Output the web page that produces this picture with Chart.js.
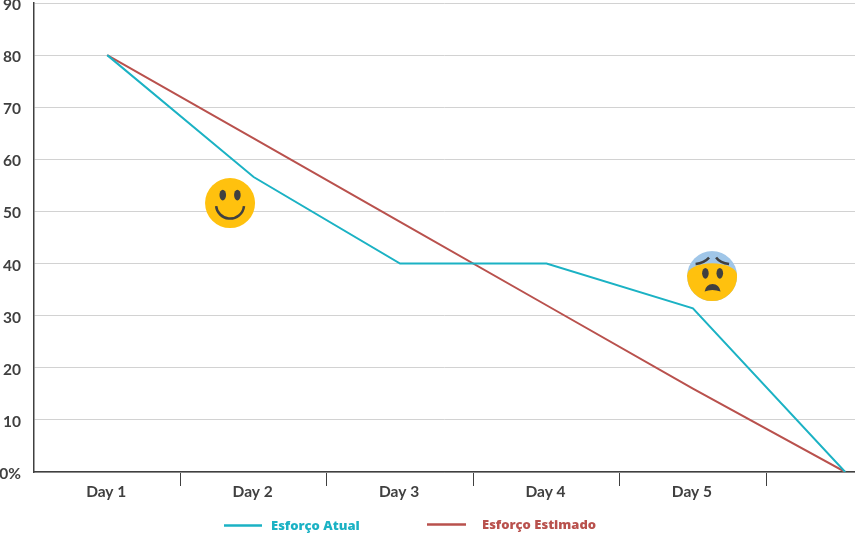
<!DOCTYPE html>
<html>
<head>
<meta charset="utf-8">
<style>
  html, body { margin: 0; background: #fff; overflow: hidden; }
</style>
<script src="https://cdn.jsdelivr.net/npm/chart.js@4"></script>
</head>
<body>
<canvas id="burndownChart" width="855" height="544"></canvas>
<script>
const dayLabels = ["Day 1", "Day 2", "Day 3", "Day 4", "Day 5"];
const dayPositions = [1, 2, 3, 4, 5, 6.04];
const esforcoAtual = [80, 56.6, 40, 40, 31.4, 0];
const esforcoEstimado = [80, 64, 48, 32, 16, 0];
const yTicks = [0, 10, 20, 30, 40, 50, 60, 70, 80, 90];
const tickMarks = [0.5, 1, 1.5, 2, 2.5, 3, 3.5, 4, 4.5, 5, 5.5];
// where the two faces sit, in axis units
const smileFace = { x: 1.839, y: 51.6 };
const worriedFace = { x: 5.131, y: 37.6 };

const textColor = "#404040";
const tealColor = "#1BB2C4";
const redColor = "#B9514D";
const yellowColor = "#FFC10E";
const blueColor = "#A0C6E8";

function toPoints(values) {
  return values.map((v, i) => ({ x: dayPositions[i], y: v }));
}

function eye(ctx, x, y) {
  ctx.beginPath();
  ctx.ellipse(x, y, 3.3, 5.3, 0, 0, Math.PI * 2);
  ctx.fill();
}

function drawSmile(ctx, cx, cy) {
  ctx.fillStyle = yellowColor;
  ctx.beginPath();
  ctx.arc(cx, cy, 25, 0, Math.PI * 2);
  ctx.fill();
  ctx.fillStyle = textColor;
  eye(ctx, cx - 7.3, cy - 8);
  eye(ctx, cx + 7.3, cy - 8);
  ctx.strokeStyle = textColor;
  ctx.lineWidth = 2.5;
  ctx.beginPath();
  ctx.arc(cx, cy + 1.5, 14, 0.1, Math.PI - 0.1);
  ctx.stroke();
}

function drawWorried(ctx, cx, cy) {
  ctx.save();
  ctx.beginPath();
  ctx.arc(cx, cy, 25, 0, Math.PI * 2);
  ctx.clip();
  ctx.fillStyle = blueColor;
  ctx.fillRect(cx - 25, cy - 25, 50, 50);
  ctx.fillStyle = yellowColor;
  ctx.beginPath();
  ctx.ellipse(cx, cy - 1, 25, 11.7, 0, 0, Math.PI * 2);
  ctx.fill();
  ctx.fillRect(cx - 25, cy - 1, 50, 26);
  ctx.restore();

  ctx.fillStyle = textColor;
  eye(ctx, cx - 6.7, cy - 2.7);
  eye(ctx, cx + 7.7, cy - 2.7);

  // brows
  ctx.strokeStyle = textColor;
  ctx.lineWidth = 2.5;
  ctx.beginPath();
  ctx.moveTo(cx - 16.5, cy - 12);
  ctx.quadraticCurveTo(cx - 8, cy - 13, cx - 3, cy - 18.5);
  ctx.moveTo(cx + 17, cy - 12);
  ctx.quadraticCurveTo(cx + 8, cy - 13, cx + 4, cy - 18.5);
  ctx.stroke();

  // mouth
  ctx.beginPath();
  ctx.moveTo(cx - 7.5, cy + 15.5);
  ctx.quadraticCurveTo(cx, cy + 12.5, cx + 8.5, cy + 15.5);
  ctx.quadraticCurveTo(cx + 7, cy + 8, cx + 0.5, cy + 8);
  ctx.quadraticCurveTo(cx - 6, cy + 8, cx - 7.5, cy + 15.5);
  ctx.fill();
}

const facesPlugin = {
  id: "faces",
  afterDatasetsDraw(chart) {
    const { ctx, scales } = chart;
    drawSmile(ctx, scales.x.getPixelForValue(smileFace.x), scales.y.getPixelForValue(smileFace.y));
    drawWorried(ctx, scales.x.getPixelForValue(worriedFace.x), scales.y.getPixelForValue(worriedFace.y));
  }
};

// legend sits off-centre with uneven gaps, so it is placed by hand
const legendSpots = [
  { lineX: 224, lineW: 38, textX: 271, y: 525.5 },
  { lineX: 427, lineW: 39, textX: 482, y: 524.5 }
];

const legendPlugin = {
  id: "sideLegend",
  afterDraw(chart) {
    const { ctx } = chart;
    ctx.save();
    ctx.font = "800 13px 'Open Sans'";
    ctx.textBaseline = "middle";
    chart.data.datasets.forEach((ds, i) => {
      const spot = legendSpots[i];
      ctx.strokeStyle = ds.borderColor;
      ctx.lineWidth = 2.5;
      ctx.beginPath();
      ctx.moveTo(spot.lineX, spot.y);
      ctx.lineTo(spot.lineX + spot.lineW, spot.y);
      ctx.stroke();
      ctx.fillStyle = ds.borderColor;
      ctx.fillText(ds.label, spot.textX, spot.y + 0.5);
    });
    ctx.restore();
  }
};

new Chart(document.getElementById("burndownChart"), {
  type: "line",
  data: {
    datasets: [
      { label: "Esforço Atual", data: toPoints(esforcoAtual), borderColor: tealColor, borderWidth: 2, pointRadius: 0, tension: 0 },
      { label: "Esforço Estimado", data: toPoints(esforcoEstimado), borderColor: redColor, borderWidth: 2, pointRadius: 0, tension: 0 }
    ]
  },
  options: {
    responsive: false,
    animation: false,
    layout: { padding: { top: 3, right: 0, left: 0, bottom: 0 } },
    plugins: { legend: { display: false }, tooltip: { enabled: false } },
    scales: {
      x: {
        type: "linear",
        bounds: "data",
        min: 0.5,
        max: 6.107,
        afterBuildTicks(scale) {
          scale.ticks = tickMarks.map(v => ({ value: v }));
        },
        afterFit(scale) {
          scale.height = 72;
          scale.paddingLeft = 0;
          scale.paddingRight = 0;
        },
        border: { color: textColor, width: 1.5 },
        grid: {
          drawOnChartArea: false,
          tickLength: 14,
          tickWidth: 1,
          tickColor: c => (c.tick && c.tick.value % 1 === 0.5 && c.tick.value > 1 ? textColor : "transparent")
        },
        ticks: {
          autoSkip: false,
          maxRotation: 0,
          padding: -3,
          labelOffset: -1,
          color: textColor,
          font: { family: "Lato", size: 15.5, weight: "700" },
          callback: v => (Number.isInteger(v) ? dayLabels[v - 1] : "")
        }
      },
      y: {
        min: 0,
        max: 90,
        afterBuildTicks(scale) {
          scale.ticks = yTicks.map(v => ({ value: v }));
        },
        afterFit(scale) {
          scale.width = 34;
          // the 90 label is allowed to touch the top edge, as in the original
          scale.paddingTop = 0;
          scale.paddingBottom = 0;
        },
        border: { color: textColor, width: 1.5 },
        grid: { color: "#D2D2D2", lineWidth: 1, drawTicks: false, tickLength: 0 },
        ticks: {
          padding: 13,
          labelOffset: 2,
          color: textColor,
          font: { family: "Lato", size: 15.5, weight: "700" },
          callback: v => (v === 0 ? "0%" : String(v))
        }
      }
    }
  },
  plugins: [facesPlugin, legendPlugin]
});
</script>
</body>
</html>
